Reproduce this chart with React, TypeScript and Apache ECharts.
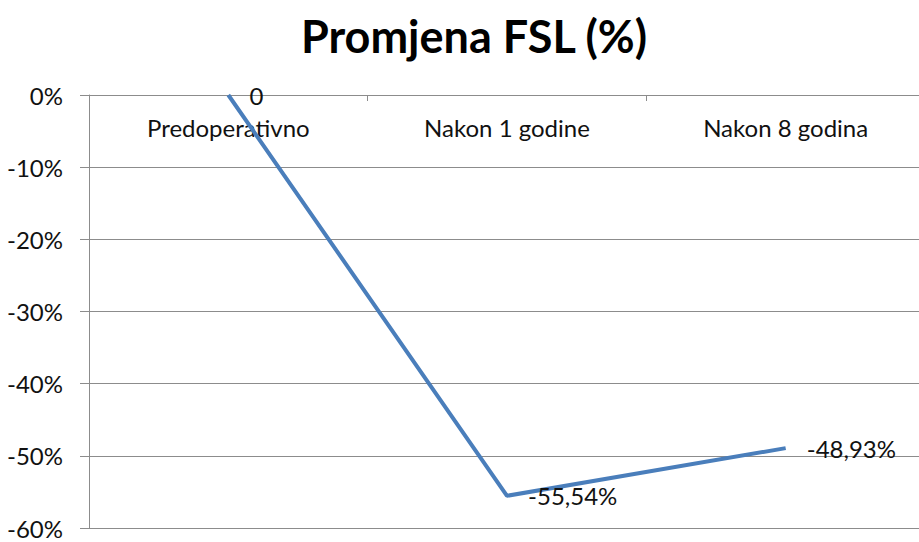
import React, { useEffect, useRef } from "react";
import * as echarts from "echarts";

const categories = ["Predoperativno", "Nakon 1 godine", "Nakon 8 godina"];
const fslChange = [0, -55.54, -48.93];
const yTicks = { min: -60, max: 0, interval: 10 };
const titleText = "Promjena FSL (%)";

const FONT = "Lato";

export default function App() {
  const ref = useRef<HTMLDivElement>(null);
  useEffect(() => {
    if (!ref.current) return;
    const chart = echarts.init(ref.current, null, { renderer: "svg" });
    chart.setOption({
      animation: false,
      backgroundColor: "#ffffff",
      title: {
        text: titleText,
        left: 469,
        textAlign: "center",
        top: 8,
        textStyle: { fontFamily: FONT, fontWeight: "bold", fontSize: 45, color: "#000000" },
      },
      grid: { left: 89, top: 95, width: 836, bottom: 14, outerBoundsMode: "none", containLabel: false },
      xAxis: {
        type: "category",
        data: categories,
        position: "top",
        boundaryGap: true,
        axisLine: { show: true, onZero: false, lineStyle: { color: "#8c8c8c", width: 1 } },
        axisTick: { show: true, inside: true, length: 6, lineStyle: { color: "#8c8c8c" } },
        axisLabel: {
          inside: true,
          margin: 20,
          fontFamily: FONT,
          fontSize: 24,
          color: "#111111",
        },
        splitLine: { show: false },
      },
      yAxis: {
        type: "value",
        min: yTicks.min,
        max: yTicks.max,
        interval: yTicks.interval,
        axisLine: { show: true, lineStyle: { color: "#8c8c8c", width: 1 } },
        axisTick: { show: true, inside: false, length: 9, lineStyle: { color: "#8c8c8c" } },
        axisLabel: {
          margin: 26,
          fontFamily: FONT,
          fontSize: 24,
          color: "#111111",
          formatter: (v: number) => `${Math.round(v)}%`,
        },
        splitLine: { show: true, lineStyle: { color: "#8c8c8c", width: 1 } },
      },
      series: [
        {
          type: "line",
          data: fslChange,
          showSymbol: true,
          symbol: "circle",
          symbolSize: 0.1,
          itemStyle: { color: "#4a7ebb" },
          lineStyle: { color: "#4a7ebb", width: 4 },
          label: {
            show: true,
            position: "right",
            distance: 21,
            offset: [0, 2],
            fontFamily: FONT,
            fontSize: 24,
            color: "#111111",
            formatter: (p: any) =>
              p.value === 0 ? "0" : `${Number(p.value).toFixed(2).replace(".", ",")}%`,
          },
          labelLayout: { hideOverlap: false },
        },
      ],
    });
    return () => chart.dispose();
  }, []);
  return (
    <div
      ref={ref}
      style={{ position: "fixed", left: 0, top: 0, width: 919, height: 542 }}
    />
  );
}
